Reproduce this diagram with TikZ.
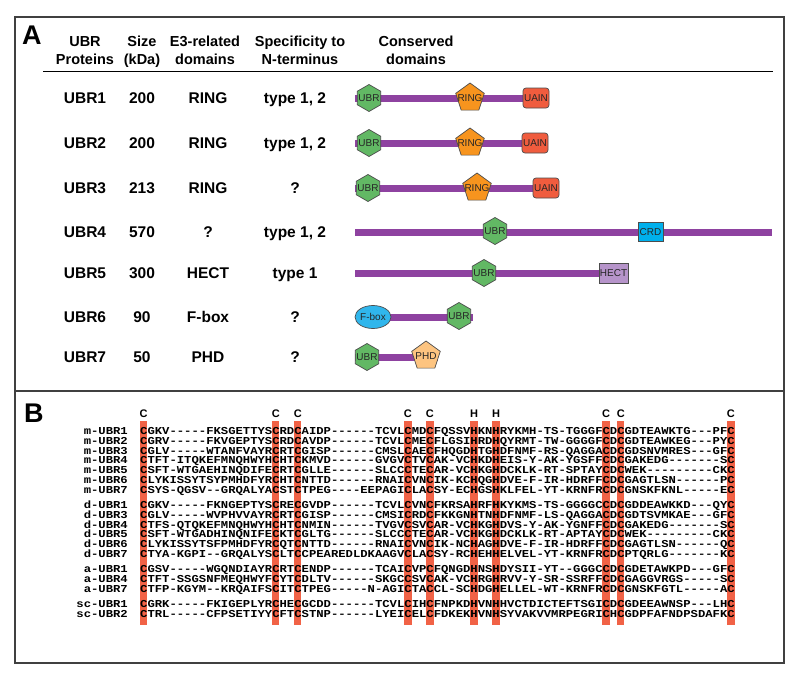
\documentclass[tikz,border=0pt]{standalone}
\usepackage{fontspec}
\setmainfont{Liberation Sans}
\setmonofont{Liberation Mono}[FakeStretch=1.154]
\usetikzlibrary{shapes.geometric, shapes.misc}

\definecolor{ubrgreen}{RGB}{98,184,100}
\definecolor{ringorange}{RGB}{247,148,30}
\definecolor{uainred}{RGB}{240,92,62}
\definecolor{crdblue}{RGB}{0,176,236}
\definecolor{hectlilac}{RGB}{182,148,202}
\definecolor{fboxblue}{RGB}{48,182,236}
\definecolor{phdpeach}{RGB}{253,196,128}
\definecolor{chainpurple}{RGB}{142,66,160}
\definecolor{hilite}{RGB}{241,98,70}

\tikzset{
  domtxt/.style={inner sep=0pt, text=black!85, font=\fontsize{10}{10}\selectfont},
  dom/.style={draw=black!70, line width=0.7pt, inner sep=0pt, label={[domtxt]center:#1}},
  ubrdom/.style={dom=UBR, fill=ubrgreen, regular polygon, regular polygon sides=6,
    shape border rotate=30, minimum size=27pt},
  pentdom/.style={dom=#1, regular polygon, regular polygon sides=5, minimum size=30pt},
  boxdom/.style={dom=#1, rectangle, minimum height=20pt},
}

\begin{document}
\begin{tikzpicture}[x=1pt, y=-1pt,
  rowtxt/.style={anchor=base, inner sep=0pt, font=\fontsize{15.5}{18}\selectfont\bfseries},
  colhead/.style={anchor=base, inner sep=0pt, align=center, font=\fontsize{14.5}{18}\selectfont\bfseries},
  panel/.style={anchor=base west, inner sep=0pt, font=\fontsize{27}{27}\selectfont\bfseries},
  frame/.style={draw=black!75, line width=1.5pt},
  chain/.style={line width=7pt, chainpurple},
  seqname/.style={anchor=base east, inner sep=0pt, text height=7pt, text depth=0pt,
    font=\fontsize{10.6}{10}\selectfont\ttfamily\bfseries},
  seqrow/.style={anchor=base west, inner sep=0pt, text height=7pt, text depth=0pt,
    font=\fontsize{10.6}{10}\selectfont\ttfamily\bfseries},
  reshead/.style={anchor=base, inner sep=0pt, font=\fontsize{11}{11}\selectfont\bfseries}]

\useasboundingbox (0,0) rectangle (800,677);
\draw[frame] (15,17) rectangle (784,663);
\draw[frame] (15,391) -- (784,391);

% panel A
\node[panel] (labA) at (22,45) {A};
\node[colhead] (hprot) at (85,65) {UBR\\Proteins};
\node[colhead] (hsize) at (142,65) {Size\\(kDa)};
\node[colhead] (heth) at (205,65) {E3-related\\domains};
\node[colhead] (hspec) at (300,65) {Specificity to\\N-terminus};
\node[colhead] (hcons) at (416,65) {Conserved\\domains};
\coordinate (rule0) at (43,71);
\coordinate (rule1) at (773,71);
\draw[line width=1pt] (rule0) -- (rule1);

\foreach \p/\kda/\eth/\spec/\y [count=\i] in {UBR1/200/RING/{type 1, 2}/98,
    UBR2/200/RING/{type 1, 2}/143, UBR3/213/RING/?/188, UBR4/570/?/{type 1, 2}/232,
    UBR5/300/HECT/type 1/273, UBR6/90/F-box/?/317, UBR7/50/PHD/?/357} {
  \node[rowtxt] (prot\i) at (85,\y+5) {\p};
  \node[rowtxt] (size\i) at (142,\y+5) {\kda};
  \node[rowtxt] (eth\i) at (208,\y+5) {\eth};
  \node[rowtxt] (spec\i) at (295,\y+5) {\spec};
}

\foreach \i/\y/\a/\b in {1/98/355/549, 2/143/355/548, 3/188/355/559, 4/232/355/772,
    5/273/355/628, 6/317/373/473, 7/357/355/438} {
  \coordinate (cs\i) at (\a,\y);
  \coordinate (ce\i) at (\b,\y);
  \draw[chain] (cs\i) -- (ce\i);
}

\node[ubrdom] (ubr1) at (369,98) {};
\node[pentdom=RING, fill=ringorange] (ring1) at (470,98) {};
\node[boxdom=UAIN, fill=uainred, rounded corners=3pt, minimum width=26pt] (uain1) at (536,98) {};
\node[ubrdom] (ubr2) at (369,143) {};
\node[pentdom=RING, fill=ringorange] (ring2) at (470,143) {};
\node[boxdom=UAIN, fill=uainred, rounded corners=3pt, minimum width=26pt] (uain2) at (535,143) {};
\node[ubrdom] (ubr3) at (368,188) {};
\node[pentdom=RING, fill=ringorange] (ring3) at (477,188) {};
\node[boxdom=UAIN, fill=uainred, rounded corners=3pt, minimum width=26pt] (uain3) at (546,188) {};
\node[ubrdom] (ubr4) at (495,231) {};
\node[boxdom=CRD, fill=crdblue, minimum width=25pt, minimum height=19pt] (crd4) at (650.5,232) {};
\node[ubrdom] (ubr5) at (484,273) {};
\node[boxdom=HECT, fill=hectlilac, minimum width=29pt] (hect5) at (613.5,273) {};
\node[dom=F-box, ellipse, fill=fboxblue, minimum width=36pt, minimum height=23pt] (fbox6) at (373,317) {};
\node[ubrdom] (ubr6) at (459,316) {};
\node[ubrdom] (ubr7) at (367,357) {};
\node[pentdom=PHD, fill=phdpeach] (phd7) at (426,356) {};

% panel B
\node[panel] (labB) at (24,422) {B};
\def\cw{7.34}
\foreach \c in {1,19,22,37,40,46,49,64,66,81}
  \fill[hilite] ({140+(\c-1)*\cw},421) rectangle ++(\cw,204);
\foreach \c/\r [count=\i] in {1/C,19/C,22/C,37/C,40/C,46/H,49/H,64/C,66/C,81/C}
  \node[reshead] (res\i) at ({140+(\c-0.5)*\cw},417) {\r};

\foreach \n/\s/\y [count=\i] in {
    m-UBR1/CGKV-----FKSGETTYSCRDCAIDP------TCVLCMDCFQSSVHKNHRYKMH-TS-TGGGFCDCGDTEAWKTG---PFC/431,
    m-UBR2/CGRV-----FKVGEPTYSCRDCAVDP------TCVLCMECFLGSIHRDHQYRMT-TW-GGGGFCDCGDTEAWKEG---PYC/440.8,
    m-UBR3/CGLV-----WTANFVAYRCRTCGISP------CMSLCAECFHQGDHTGHDFNMF-RS-QAGGACDCGDSNVMRES---GFC/450.6,
    m-UBR4/CTFT-ITQKEFMNQHWYHCHTCKMVD------GVGVCTVCAK-VCHKDHEIS-Y-AK-YGSFFCDCGAKEDG-------SC/460.4,
    m-UBR5/CSFT-WTGAEHINQDIFECRTCGLLE------SLCCCTECAR-VCHKGHDCKLK-RT-SPTAYCDCWEK---------CKC/470.2,
    m-UBR6/CLYKISSYTSYPMHDFYRCHTCNTTD------RNAICVNCIK-KCHQGHDVE-F-IR-HDRFFCDCGAGTLSN------PC/480,
    m-UBR7/CSYS-QGSV--GRQALYACSTCTPEG----EEPAGICLACSY-ECHGSHKLFEL-YT-KRNFRCDCGNSKFKNL-----EC/489.8,
    d-UBR1/CGKV-----FKNGEPTYSCRECGVDP------TCVLCVNCFKRSAHRFHKYKMS-TS-GGGGCCDCGDDEAWKKD---QYC/505,
    d-UBR3/CGLV-----WVPHVVAYRCRTCGISP------CMSICRDCFKKGNHTNHDFNMF-LS-QAGGACDCGDTSVMKAE---GFC/514.8,
    d-UBR4/CTFS-QTQKEFMNQHWYHCHTCNMIN------TVGVCSVCAR-VCHKGHDVS-Y-AK-YGNFFCDCGAKEDG-------SC/524.6,
    d-UBR5/CSFT-WTGADHINQNIFECKTCGLTG------SLCCCTECAR-VCHKGHDCKLK-RT-APTAYCDCWEK---------CKC/534.4,
    d-UBR6/CLYKISSYTSFPMHDFYRCQTCNTTD------RNAICVNCIK-NCHAGHDVE-F-IR-HDRFFCDCGAGTLSN------QC/544.2,
    d-UBR7/CTYA-KGPI--GRQALYSCLTCCPEAREDLDKAAGVCLACSY-RCHEHHELVEL-YT-KRNFRCDCPTQRLG-------KC/554,
    a-UBR1/CGSV-----WGQNDIAYRCRTCENDP------TCAICVPCFQNGDHNSHDYSII-YT--GGGCCDCGDETAWKPD---GFC/569,
    a-UBR4/CTFT-SSGSNFMEQHWYFCYTCDLTV------SKGCCSVCAK-VCHRGHRVV-Y-SR-SSRFFCDCGAGGVRGS-----SC/578.8,
    a-UBR7/CTFP-KGYM--KRQAIFSCITCTPEG-----N-AGICTACCL-SCHDGHELLEL-WT-KRNFRCDCGNSKFGTL-----AC/588.6,
    sc-UBR1/CGRK-----FKIGEPLYRCHECGCDD------TCVLCIHCFNPKDHVNHHVCTDICTEFTSGICDCGDEEAWNSP---LHC/604,
    sc-UBR2/CTRL-----CFPSETIYYCFTCSTNP------LYEICELCFDKEKHVNHSYVAKVVMRPEGRICHCGDPFAFNDPSDAFKC/613.8} {
  \node[seqname] (name\i) at (128,\y+3.5) {\n};
  \node[seqrow] (seq\i) at (140,\y+3.5) {\s};
}
\end{tikzpicture}
\end{document}
